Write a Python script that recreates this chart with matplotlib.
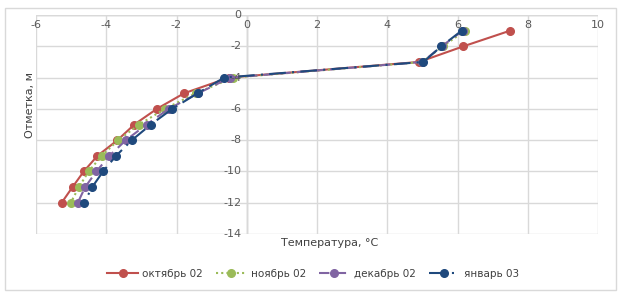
import matplotlib.pyplot as plt
from matplotlib.patches import Rectangle

# Отметки (глубина), м
otmetka = [-1, -2, -3, -4, -5, -6, -7, -8, -9, -10, -11, -12]

# Температура по месяцам, °C
oktyabr = [7.5, 6.17, 4.91, -0.5, -1.78, -2.56, -3.2, -3.68, -4.25, -4.64, -4.96, -5.27]
noyabr = [6.22, 5.58, 5.0, -0.38, -1.45, -2.33, -3.06, -3.66, -4.13, -4.5, -4.78, -5.01]
dekabr = [6.15, 5.55, 5.0, -0.47, -1.38, -2.22, -2.85, -3.44, -3.91, -4.28, -4.6, -4.81]
yanvar = [6.12, 5.54, 5.03, -0.64, -1.4, -2.12, -2.73, -3.27, -3.72, -4.09, -4.4, -4.63]

serii = ['октябрь 02', 'ноябрь 02', 'декабрь 02', 'январь 03']

fig = plt.figure(figsize=(6.24, 2.98), dpi=100)
fig.patches.append(Rectangle((5 / 624, 8 / 298), 611 / 624, 282 / 298, transform=fig.transFigure,
                             fill=False, edgecolor='#d9d9d9', linewidth=1))
ax = fig.add_axes([36 / 624, 1 - 234 / 298, 562 / 624, 219 / 298])

ax.plot(oktyabr, otmetka, color='#c0504d', lw=1.5, ls='-', marker='o', ms=5.5, label=serii[0])
ax.plot(noyabr, otmetka, color='#9bbb59', lw=1.5, ls=(0, (1, 1.5)), marker='o', ms=5.5, label=serii[1])
ax.plot(dekabr, otmetka, color='#8064a2', lw=1.5, ls=(0, (5, 3)), marker='o', ms=5.5, label=serii[2])
ax.plot(yanvar, otmetka, color='#1f497d', lw=1.5, ls=(0, (8, 3, 1, 3)), marker='o', ms=5.5, label=serii[3])

ax.set_xlim(-6, 10)
ax.set_ylim(-14, 0)
ax.set_xticks(range(-6, 11, 2))
ax.set_yticks(range(-14, 1, 2))
ax.grid(True, color='#d9d9d9', lw=1)
ax.set_axisbelow(True)
for s in ax.spines.values():
    s.set_visible(False)
ax.axvline(0, color='#bfbfbf', lw=1, zorder=0.5)
ax.axhline(0, color='#bfbfbf', lw=1, zorder=0.5)
ax.tick_params(length=0, labelsize=8, colors='#595959')

# подписи оси Y у вертикальной оси x=0
ax.set_yticklabels([])
for v in range(-14, 1, 2):
    ax.text(-0.15, v, str(v), ha='right', va='center', fontsize=8, color='#595959')
# подписи оси X под верхней линией
ax.set_xticklabels([])
for v in range(-6, 11, 2):
    ax.text(v, -0.35, str(v), ha='center', va='top', fontsize=8, color='#595959')

fig.text(330 / 624, 1 - 243 / 298, 'Температура, °C', ha='center', va='center', fontsize=8, color='#404040')
fig.text(30 / 624, 1 - 105 / 298, 'Отметка, м', ha='center', va='center', rotation=90, fontsize=8, color='#404040')

fig.legend(loc='center', bbox_to_anchor=(313 / 624, 1 - 274 / 298), ncol=4, frameon=False,
           fontsize=7.5, handlelength=3.0, handletextpad=0.4, columnspacing=1.2, labelcolor='#404040')

fig.savefig('out.png', dpi=100)
